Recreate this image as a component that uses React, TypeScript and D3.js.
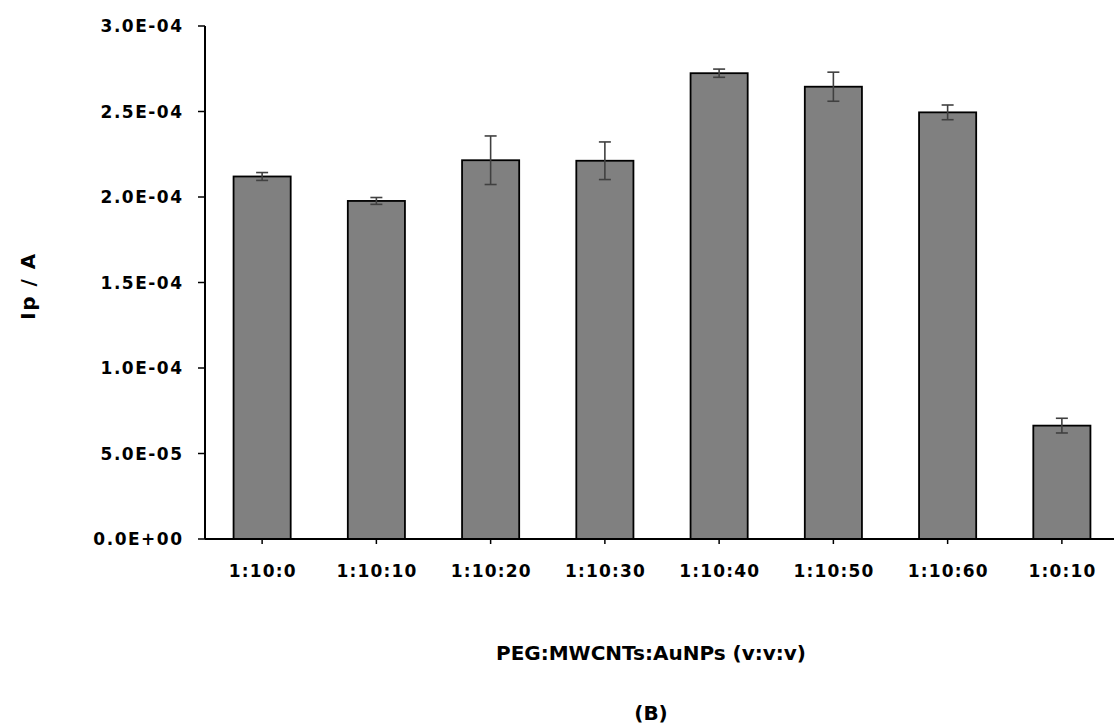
import * as d3 from "d3";

const categories = ["1:10:0", "1:10:10", "1:10:20", "1:10:30", "1:10:40", "1:10:50", "1:10:60", "1:0:10"];
const peakCurrent = [2.12e-4, 1.977e-4, 2.215e-4, 2.212e-4, 2.724e-4, 2.645e-4, 2.495e-4, 6.63e-5];
const errorValues = [2.3e-6, 2.0e-6, 1.42e-5, 1.1e-5, 2.4e-6, 8.5e-6, 4.3e-6, 4.3e-6];
const yTicks = [0, 5e-5, 1e-4, 1.5e-4, 2e-4, 2.5e-4, 3e-4];
const yTickLabels = ["0.0E+00", "5.0E-05", "1.0E-04", "1.5E-04", "2.0E-04", "2.5E-04", "3.0E-04"];

const width = 1114;
const height = 726;
const left = 205;
const top = 26;
const bottom = 539;
const font = "'DejaVu Sans', Verdana, sans-serif";

export default function App() {
  const x = d3.scaleBand().domain(categories).range([left, left + 914]).paddingInner(0.5).paddingOuter(0.25);
  const y = d3.scaleLinear().domain([0, 3e-4]).range([bottom, top]);

  return (
    <div style={{ position: "fixed", left: 0, top: 0 }}>
      <svg width={width} height={height} style={{ display: "block", background: "#fff" }}>
        {categories.map((c, i) => {
          const bx = x(c)!;
          const cx = bx + x.bandwidth() / 2;
          const hi = y(peakCurrent[i] + errorValues[i]);
          const lo = y(peakCurrent[i] - errorValues[i]);
          return (
            <g key={c}>
              <rect x={bx} y={y(peakCurrent[i])} width={x.bandwidth()} height={bottom - y(peakCurrent[i])}
                fill="#808080" stroke="#000" strokeWidth={1.8} />
              <g stroke="#404040" strokeWidth={1.6}>
                <line x1={cx} x2={cx} y1={hi} y2={lo} />
                <line x1={cx - 6} x2={cx + 6} y1={hi} y2={hi} />
                <line x1={cx - 6} x2={cx + 6} y1={lo} y2={lo} />
              </g>
              <line x1={cx} x2={cx} y1={bottom} y2={bottom + 5} stroke="#000" strokeWidth={1.5} />
              <text x={cx + 0.6} y={577} textAnchor="middle" fontFamily={font} fontWeight="bold" fontSize={17} letterSpacing={1.2} fill="#000">{c}</text>
            </g>
          );
        })}
        <line x1={left} x2={width} y1={bottom} y2={bottom} stroke="#000" strokeWidth={2} />
        <line x1={left} x2={left} y1={top} y2={bottom} stroke="#000" strokeWidth={2} />
        {yTicks.map((t, i) => (
          <g key={t}>
            <line x1={left - 7} x2={left} y1={y(t)} y2={y(t)} stroke="#000" strokeWidth={1.5} />
            <text x={left - 21.5} y={y(t) + 6} textAnchor="end" fontFamily={font} fontWeight="bold" fontSize={17} letterSpacing={1.5} fill="#000">{yTickLabels[i]}</text>
          </g>
        ))}
        <text transform={`translate(35,286) rotate(-90)`} textAnchor="middle" fontFamily={font} fontWeight="bold" fontSize={20} letterSpacing={1.5} fill="#000">Ip / A</text>
        <text x={651} y={660} textAnchor="middle" fontFamily={font} fontWeight="bold" fontSize={20} fill="#000">PEG:MWCNTs:AuNPs (v:v:v)</text>
        <text x={651} y={720} textAnchor="middle" fontFamily={font} fontWeight="bold" fontSize={20} fill="#000">(B)</text>
      </svg>
    </div>
  );
}
